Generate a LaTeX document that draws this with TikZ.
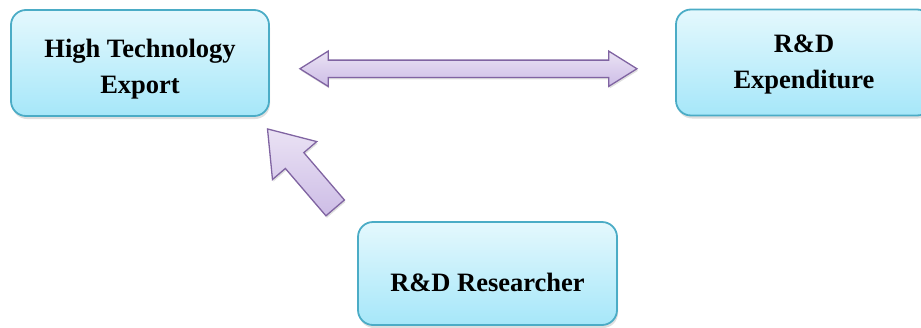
\documentclass[tikz,border=0pt]{standalone}
\usepackage{fontspec}
\setmainfont{Liberation Serif}
\usetikzlibrary{shapes.arrows,shadows,shadings,calc}
\definecolor{boxtop}{HTML}{E4F8FD}
\definecolor{boxbot}{HTML}{A6E7F9}
\definecolor{boxline}{HTML}{4BACC6}
\definecolor{arrtop}{HTML}{EAE2F4}
\definecolor{arrbot}{HTML}{CDBDE6}
\definecolor{arrline}{HTML}{8064A2}
\tikzset{
  boxnode/.style={draw=boxline, line width=1.8pt, rounded corners=15pt,
    top color=boxtop, bottom color=boxbot,
    drop shadow={shadow xshift=1pt, shadow yshift=-3pt, opacity=0.25},
    minimum width=258pt, minimum height=106pt,
    font=\bfseries\fontsize{26.5}{36}\selectfont, text=black},
  blockarrow/.style={draw=arrline, line width=1.3pt,
    top color=arrtop, bottom color=arrbot, inner xsep=0pt,
    drop shadow={shadow xshift=1pt, shadow yshift=-2pt, opacity=0.25}}
}
\begin{document}
\begin{tikzpicture}[x=1pt,y=1pt]
\useasboundingbox (0,0) rectangle (921,-327);
\node[boxnode, align=center, text height=66pt, text depth=6pt] (hte) at (140,-63) {High Technology\\Export};
\node[boxnode, align=center, minimum width=256pt, text height=58pt, text depth=6pt] (rde) at (804,-62.5) {R\&D\\Expenditure};
\node[boxnode, minimum width=259pt, minimum height=103pt, text height=35pt, text depth=0pt] (rdr) at (487.5,-273.5) {R\&D Researcher};
\node[blockarrow, double arrow, inner ysep=8pt,
  minimum height=337pt, double arrow head extend=9pt, double arrow tip angle=64]
  (dbl) at ($(hte.east)!0.49!(rde.west)+(0,-6)$) {};
\node[blockarrow, single arrow, inner ysep=11.5pt,
  minimum height=104pt, single arrow head extend=17pt, single arrow tip angle=70,
  rotate=130.6] (diag) at (307,-175) {};
\end{tikzpicture}
\end{document}
